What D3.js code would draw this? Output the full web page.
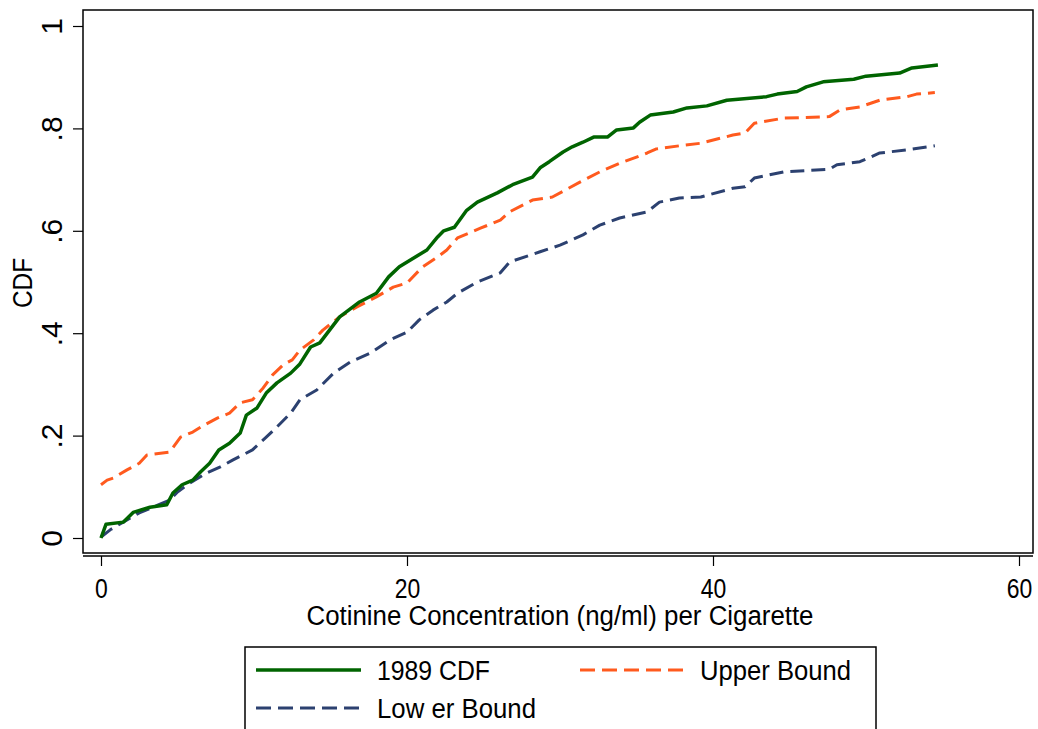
<!DOCTYPE html>
<html>
<head>
<meta charset="utf-8">
<script src="https://cdn.jsdelivr.net/npm/d3@7"></script>
<style>
  body { margin: 0; background: #fff; }
  text { font-family: "Liberation Sans", Arial, sans-serif; fill: #000; }
</style>
</head>
<body>
<script>
// cotinine CDF with bounds

var xTicks = [0, 20, 40, 60];
var yTicks = [0, 0.2, 0.4, 0.6, 0.8, 1];
var yTickLabels = ["0", ".2", ".4", ".6", ".8", "1"];

var cdfX = [0, 0.33, 1.45, 2.1, 3.2, 4.3, 4.7, 5.3, 6.0, 6.5, 7.1, 7.7, 8.4, 9.1, 9.5, 10.2, 10.8, 11.5, 12.4, 13.0,
  13.7, 14.3, 15.6, 16.9, 18.0, 18.8, 19.5, 21.3, 22.0, 22.4, 23.1, 23.9, 24.6, 25.9, 26.9, 28.2, 28.7, 29.3, 30.2, 30.8,
  31.5, 32.2, 33.1, 33.7, 34.8, 35.2, 35.9, 37.4, 38.3, 39.6, 40.9, 43.5, 44.2, 45.5, 46.1, 47.2, 49.2, 50.0, 52.2, 53.0, 54.7];
var cdfY = [0, 0.027, 0.031, 0.05, 0.06, 0.065, 0.088, 0.104, 0.113, 0.129, 0.146, 0.172, 0.185, 0.205, 0.24, 0.254, 0.283, 0.303, 0.322, 0.34,
  0.373, 0.381, 0.432, 0.461, 0.478, 0.51, 0.53, 0.5625, 0.588, 0.60, 0.607, 0.64, 0.656, 0.674, 0.69, 0.705, 0.723, 0.735, 0.754, 0.764,
  0.773, 0.783, 0.783, 0.797, 0.801, 0.812, 0.826, 0.832, 0.84, 0.844, 0.855, 0.862, 0.867, 0.872, 0.881, 0.891, 0.896, 0.902, 0.908, 0.918, 0.924];

var upperX = [0, 0.4, 0.8, 1.7, 2.5, 3.0, 4.5, 5.2, 6.0, 6.7, 7.6, 8.4, 9.1, 9.9, 10.6, 11.2, 11.9, 12.5, 13.0, 13.9,
  14.5, 15.6, 16.7, 18.0, 19.1, 20.0, 21.0, 22.0, 22.6, 23.3, 24.8, 26.1, 26.7, 28.2, 29.5, 31.3, 32.6, 33.9, 35.0, 35.7,
  36.3, 37.8, 39.2, 41.3, 42.1, 42.7, 44.6, 47.6, 48.3, 49.6, 50.9, 52.7, 53.3, 54.5];
var upperY = [0.104, 0.113, 0.117, 0.133, 0.146, 0.162, 0.168, 0.197, 0.207, 0.22, 0.234, 0.244, 0.264, 0.27, 0.293, 0.318, 0.338, 0.348, 0.367, 0.387,
  0.406, 0.432, 0.451, 0.471, 0.49, 0.498, 0.529, 0.549, 0.5625, 0.586, 0.605, 0.621, 0.637, 0.66, 0.666, 0.695, 0.715, 0.732, 0.744, 0.752,
  0.76, 0.766, 0.771, 0.787, 0.791, 0.81, 0.82, 0.823, 0.836, 0.842, 0.855, 0.862, 0.867, 0.87];

var lowerX = [0, 0.6, 1.45, 2.5, 3.7, 4.5, 5.0, 5.8, 6.9, 7.8, 8.6, 9.9, 10.8, 11.5, 12.4, 13.0, 14.1, 15.2, 16.3, 17.6,
  18.9, 20.0, 20.8, 21.7, 22.6, 23.3, 24.6, 26.1, 26.7, 28.7, 30.0, 31.5, 32.6, 33.9, 35.7, 36.5, 37.8, 39.2, 41.3, 42.1,
  42.7, 44.6, 47.6, 48.1, 49.6, 50.9, 52.7, 54.5];
var lowerY = [0.002, 0.016, 0.031, 0.049, 0.064, 0.074, 0.09, 0.107, 0.127, 0.139, 0.152, 0.172, 0.197, 0.217, 0.244, 0.27, 0.289, 0.322, 0.344, 0.361,
  0.387, 0.402, 0.426, 0.445, 0.461, 0.478, 0.5, 0.518, 0.539, 0.559, 0.572, 0.592, 0.611, 0.625, 0.637, 0.656, 0.664, 0.666, 0.683, 0.686,
  0.703, 0.715, 0.72, 0.729, 0.735, 0.752, 0.758, 0.766];

var width = 1038, height = 729;
var box = {left: 83, top: 10, right: 1033, bottom: 553};

var svg = d3.select("body").append("svg")
    .attr("width", width)
    .attr("height", height);

var x = d3.scaleLinear().domain([0, 60]).range([101, 1019]);
var y = d3.scaleLinear().domain([0, 1]).range([538, 26]);

// plot region
svg.append("rect")
    .attr("x", box.left).attr("y", box.top)
    .attr("width", box.right - box.left).attr("height", box.bottom - box.top)
    .attr("fill", "none").attr("stroke", "#000").attr("stroke-width", 1.5);

// x axis sits just under the box
var xAxis = svg.append("g")
    .attr("transform", "translate(0,556)")
    .call(d3.axisBottom(x).tickValues(xTicks).tickSize(10).tickFormat(d3.format("d")));
xAxis.select(".domain").attr("d", "M" + box.left + ",0H" + box.right).attr("stroke-width", 1.5);
xAxis.selectAll(".tick line").attr("stroke-width", 1.2);
xAxis.selectAll(".tick text")
    .attr("y", 0).attr("dy", null)
    .attr("transform", "translate(0,42) scale(0.82,1)")
    .style("font-size", "28px")
    .style("font-family", "Liberation Sans, Arial, sans-serif");

var yAxis = svg.append("g")
    .attr("transform", "translate(" + box.left + ",0)")
    .call(d3.axisLeft(y).tickValues(yTicks).tickSize(10).tickFormat(function(d, i) { return yTickLabels[i]; }));
yAxis.select(".domain").remove();
yAxis.selectAll(".tick line").attr("stroke-width", 1.2);
yAxis.selectAll(".tick text")
    .attr("x", 0).attr("dy", null)
    .attr("text-anchor", "middle")
    .attr("transform", "translate(-21,0) rotate(-90)")
    .style("font-size", "30px")
    .style("font-family", "Liberation Sans, Arial, sans-serif");

svg.append("text")
    .attr("x", 560).attr("y", 625)
    .attr("text-anchor", "middle")
    .attr("textLength", 507).attr("lengthAdjust", "spacingAndGlyphs")
    .style("font-size", "27px")
    .text("Cotinine Concentration (ng/ml) per Cigarette");

svg.append("text")
    .attr("transform", "translate(32,283) rotate(-90)")
    .attr("text-anchor", "middle")
    .attr("textLength", 50).attr("lengthAdjust", "spacingAndGlyphs")
    .style("font-size", "27px")
    .text("CDF");

var series = [
  {name: "1989 CDF", xs: cdfX, ys: cdfY, color: "#006400", width: 3.5, dash: null},
  {name: "Upper Bound", xs: upperX, ys: upperY, color: "#ff5a1e", width: 3, dash: "14,7"},
  {name: "Low er Bound", xs: lowerX, ys: lowerY, color: "#2c4170", width: 3, dash: "14,7"}
];

var line = d3.line()
    .x(function(d) { return x(d[0]); })
    .y(function(d) { return y(d[1]); });

// draw bounds first so the cdf sits on top
[1, 2, 0].forEach(function(k) {
  var s = series[k];
  svg.append("path")
     .datum(d3.zip(s.xs, s.ys))
     .attr("d", line)
     .attr("fill", "none")
     .attr("stroke", s.color)
     .attr("stroke-width", s.width)
     .attr("stroke-linejoin", "round")
     .attr("stroke-dasharray", s.dash);
});

// legend, cut off by bottom of the image
svg.append("rect")
    .attr("x", 245).attr("y", 647)
    .attr("width", 631).attr("height", 100)
    .attr("fill", "none").attr("stroke", "#000").attr("stroke-width", 1.5);

var legendPos = [
  {lx: 256, ly: 670, tx: 377, tw: 113},
  {lx: 580, ly: 670, tx: 700, tw: 151},
  {lx: 256, ly: 708, tx: 377, tw: 159}
];

series.forEach(function(s, i) {
  var p = legendPos[i];
  svg.append("line")
     .attr("x1", p.lx).attr("x2", p.lx + 105)
     .attr("y1", p.ly).attr("y2", p.ly)
     .attr("stroke", s.color)
     .attr("stroke-width", s.width)
     .attr("stroke-dasharray", s.dash ? "15,7" : null);
  svg.append("text")
     .attr("x", p.tx).attr("y", p.ly + 10)
     .attr("textLength", p.tw).attr("lengthAdjust", "spacingAndGlyphs")
     .style("font-size", "27px")
     .text(s.name);
});
</script>
</body>
</html>
